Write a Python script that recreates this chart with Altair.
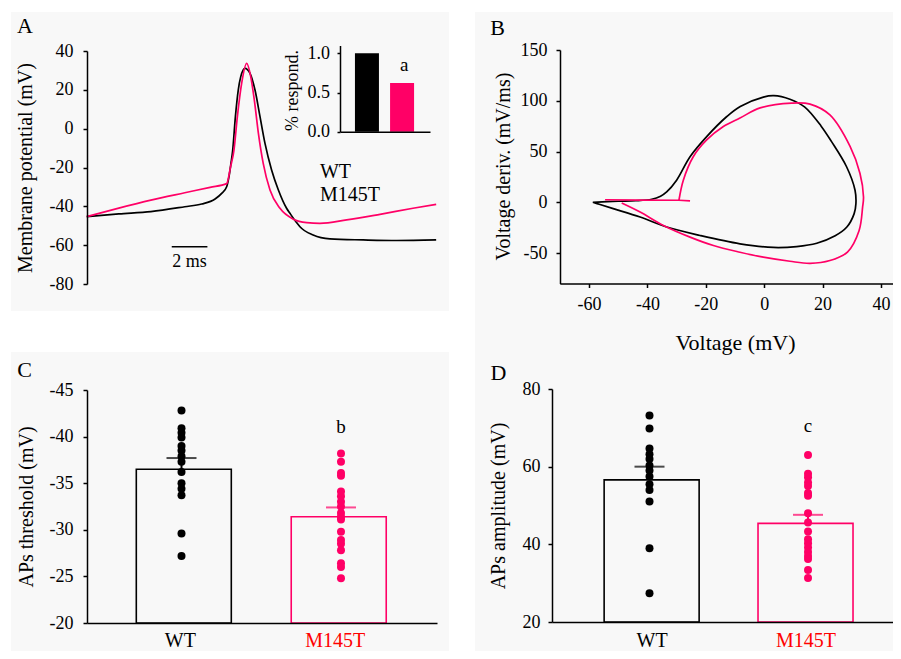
import altair as alt
import pandas as pd

# ------------------------------------------------------------------ data
groups = ["WT", "M145T"]

# Panel A: action potentials (time in ms, membrane potential in mV)
a_wt_t = [0, 1.8, 3.6, 5.5, 6.45, 7.2, 7.57, 7.85, 7.98, 8.09, 8.19, 8.34, 8.5, 8.64, 8.88,
          9.16, 9.44, 9.72, 10.0, 10.37, 10.75, 11.21, 11.4, 11.78, 11.96, 12.7, 13.64, 15.5, 17.4, 19.6]
a_wt_v = [-45.3, -43.9, -42.7, -40.2, -38.8, -36.2, -33.3, -29.9, -24.7, -17.9, -11.0, 6.2, 19.9, 26.8, 31.1,
          28.5, 19.9, 6.2, -7.6, -21.3, -31.6, -41.0, -43.6, -48.5, -50.5, -54.8, -56.8, -57.3, -57.6, -57.3]
a_mut_t = [0, 1.8, 3.6, 5.5, 6.92, 7.85, 8.07, 8.26, 8.45, 8.69, 8.97, 9.2, 9.4, 9.63, 9.9,
           10.28, 10.84, 11.59, 12.34, 13.08, 14.58, 16.45, 18.3, 19.6]
a_mut_v = [-45.3, -40.9, -36.8, -33.0, -30.2, -28.3, -19.6, -11.0, 6.2, 23.3, 33.6, 26.8, 14.8, -2.4, -17.9,
           -31.6, -41.0, -46.6, -48.4, -48.8, -47.0, -44.1, -41.0, -39.0]
a_yticks = [-80, -60, -40, -20, 0, 20, 40]
scalebar_t = [4.77]
scalebar_len = 2
scalebar_v = [-60.8]
scalebar_label = ["2 ms"]

# inset: fraction responding
inset_resp = [1.0, 0.62]
inset_ticks = [0.0, 0.5, 1.0]

# Panel B: phase plots (V in mV, dV/dt in mV/ms)
b_wt_v = [-58.7, -50, -44, -38.5, -35.5, -33.4, -30, -25.4, -19.7, -12.8, -8.2, -0.3, 3.3, 8.8, 13.8,
          19.5, 23.0, 28.2, 31.1, 31.4, 30.8, 28.3, 24.3, 18.0, 11.1, 3.1, -8.3, -22, -33.4, -42.5,
          -51.7, -56.5, -58.7]
b_wt_dv = [0, 1, 1.5, 3, 6, 10.2, 21.8, 44.9, 64.7, 84.5, 94.4, 103.6, 105, 101.5, 94,
           75, 60, 35, 11.9, -1.3, -11.2, -24.4, -33, -40.3, -43.6, -44.5, -40.9, -32.7, -24.4, -14.5,
           -6.3, -2, 0]
b_mut_v = [-29.2, -27.7, -24.3, -19.7, -14, -8.3, -1.4, 9.4, 15.7, 22.5, 29.4, 32.8, 34.0, 33.7,
           32.5, 28.5, 22.5, 15.7, 8.8, -0.3, -8.3, -17.4, -25.4, -34.5, -42.5, -48.8]
b_mut_dv = [2, 21.8, 44.9, 61.4, 74.6, 83, 93, 97.7, 96.7, 86, 55, 28.4, 5.2, -4.6,
            -27.7, -49, -57.4, -60.1, -58.1, -54.1, -49.2, -42.6, -34.3, -22.8, -9.6, -0.7]
b_mut_flat_v = [-54.5, -42, -29.2, -25.4]
b_mut_flat_dv = [2.5, 2.2, 2, 1.3]
b_xticks = [-60, -40, -20, 0, 20, 40]
b_yticks = [-50, 0, 50, 100, 150]

# Panel C: AP threshold (mV)
c_wt = [-42.8, -40.9, -40.4, -39.9, -39.0, -38.5, -37.9, -37.3, -36.2, -35.0, -34.4, -33.7, -29.6, -27.2]
c_mut = [-38.2, -37.3, -36.1, -35.8, -34.1, -33.6, -33.0, -32.5, -31.8, -31.4, -31.1, -29.8, -28.9,
         -28.5, -27.8, -26.4, -26.0, -24.8]
c_mean = [-36.5, -31.4]
c_cap = [-37.7, -32.4]
c_ydomain = [-45, -20]
c_yticks = [-45, -40, -35, -30, -25, -20]
c_letter = ["b"]
c_letter_v = [-41.0]

# Panel D: AP amplitude (mV)
d_wt = [73.2, 69.8, 64.7, 63.2, 62.0, 60.3, 59.0, 57.5, 55.5, 54.0, 51.0, 39.0, 27.4]
d_mut = [63.0, 58.2, 57.3, 55.9, 55.0, 53.2, 52.5, 48.0, 45.6, 43.3, 41.3, 40.3, 39.2, 38.0, 37.0,
         36.2, 33.4, 31.3]
d_mean = [56.6, 45.4]
d_cap = [60.0, 47.6]
d_ydomain = [20, 80]
d_yticks = [20, 40, 60, 80]
d_letter = ["c"]
d_letter_v = [70.5]

# ------------------------------------------------------------------ style / layout
BLACK, PINK, RED, BG = "#000000", "#ff0066", "#ff0000", "#f8f8f8"
FONT = "Liberation Serif"
W, H = 885, 643
M = 8  # page margin: reference pixel -> chart pixel


def cx(x):
    return x - M


def cy(y):
    return y - M


def lin(domain, r0, r1):
    return alt.Scale(domain=domain, range=[r0, r1], nice=False, zero=False)


NUM = "'' + datum.value"
color_scale = alt.Scale(domain=groups, range=[BLACK, PINK])
AX_STYLE = dict(grid=False, zindex=1, labelOverlap=False, labelFlush=False, labelFont=FONT,
                titleFont=FONT, titleFontWeight="normal", domainColor=BLACK, tickColor=BLACK,
                domainWidth=1.5, tickWidth=1.5, titleColor=BLACK)


def y_axis(x_ref, values, title, tx_ref, ty_ref, pad=10, tick=4, lsize=18, tsize=20, expr=NUM):
    return alt.Axis(orient="left", offset=-cx(x_ref), values=values, title=title,
                    titleX=tx_ref - x_ref, titleY=cy(ty_ref), titleAngle=-90,
                    titleAlign="center", titleBaseline="middle", titleFontSize=tsize,
                    labelFontSize=lsize, tickSize=tick, labelPadding=pad, labelExpr=expr,
                    labelColor=BLACK, **AX_STYLE)


def x_axis(y_ref, **kw):
    return alt.Axis(orient="bottom", offset=cy(y_ref) - H, **AX_STYLE, **kw)


def strip(x0, x1, y0, y1):
    # white gaps between the grey figure panels
    return alt.Chart(pd.DataFrame({"k": [0]})).mark_rect(color="white").encode(
        x=alt.value(cx(x0)), x2=alt.value(cx(x1)), y=alt.value(cy(y0)), y2=alt.value(cy(y1)))


def letter(s, x, y):
    return alt.Chart(pd.DataFrame({"k": [0]})).mark_text(
        text=s, fontSize=22, font=FONT, align="center", baseline="middle", color=BLACK).encode(
        x=alt.value(cx(x)), y=alt.value(cy(y)))


layers = [strip(0, 901, 0, 12), strip(0, 11, 0, 659), strip(449, 475, 0, 659), strip(0, 449, 311, 352)]

# ------------------------------------------------------------------ panel A
xA = lin([0, 19.63], cx(86.7), cx(436.7))
yA = lin([-80, 40], cy(284), cy(51))
XA = alt.X("t:Q", scale=xA, axis=None)
YA = alt.Y("v:Q", scale=yA, axis=None)

layers.append(alt.Chart(pd.DataFrame({"t": a_wt_t, "v": a_wt_v})).mark_line(
    color=BLACK, strokeWidth=1.7, interpolate="monotone").encode(
    x=XA, y=alt.Y("v:Q", scale=yA, axis=y_axis(87, a_yticks, "Membrane potential (mV)", 25.5, 167.5))))
layers.append(alt.Chart(pd.DataFrame({"t": a_mut_t, "v": a_mut_v})).mark_line(
    color=PINK, strokeWidth=1.7, interpolate="monotone").encode(x=XA, y=YA))
sb_df = pd.DataFrame({"t": scalebar_t, "t2": [t + scalebar_len for t in scalebar_t], "v": scalebar_v,
                      "tm": [t + scalebar_len / 2 for t in scalebar_t],
                      "vl": [v - 7.7 for v in scalebar_v], "label": scalebar_label})
layers.append(alt.Chart(sb_df).mark_rule(color=BLACK, strokeWidth=1.5).encode(x=XA, x2="t2:Q", y=YA))
layers.append(alt.Chart(sb_df).mark_text(fontSize=18, font=FONT, baseline="middle", color=BLACK).encode(
    x=alt.X("tm:Q", scale=xA, axis=None), y=alt.Y("vl:Q", scale=yA, axis=None), text="label:N"))
leg_df = pd.DataFrame({"t": [13.08, 13.08], "v": [-22.1, -34.2], "label": groups})
layers.append(alt.Chart(leg_df).mark_text(fontSize=20, font=FONT, align="left", baseline="middle",
                                          color=BLACK).encode(x=XA, y=YA, text="label:N"))

# ------------------------------------------------------------------ inset
xI = lin([-0.625, 1.653], cx(340), cx(430))
yI = lin([0, 1.1], cy(131.7), cy(45.5))
inset_df = pd.DataFrame({"pos": [0, 1], "r": inset_resp, "g": groups})
layers.append(alt.Chart(inset_df).mark_bar(size=24).encode(
    x=alt.X("pos:Q", scale=xI, axis=x_axis(131.7, labels=False, ticks=False, title=None)),
    y=alt.Y("r:Q", scale=yI, axis=y_axis(340, inset_ticks, "% respond.", 292, 90, pad=7.5, tick=3,
                                         lsize=18, tsize=18, expr="format(datum.value, '.1f')")),
    color=alt.Color("g:N", scale=color_scale, legend=None)))
layers.append(alt.Chart(pd.DataFrame({"pos": [1], "r": [0.85], "label": ["a"]})).mark_text(
    fontSize=19, font=FONT, baseline="middle", color=BLACK).encode(
    x=alt.X("pos:Q", scale=xI, axis=None), y=alt.Y("r:Q", scale=yI, axis=None), text="label:N"))

# ------------------------------------------------------------------ panel B
xB = lin([-70, 44.1], cx(559.8), cx(893))
yB = lin([-80, 150], cy(283.5), cy(50))


def loop_df(v, dv):
    return pd.DataFrame({"v": v, "dv": dv, "i": list(range(len(v)))})


layers.append(alt.Chart(loop_df(b_wt_v, b_wt_dv)).mark_line(
    color=BLACK, strokeWidth=1.7, interpolate="catmull-rom").encode(
    x=alt.X("v:Q", scale=xB, axis=x_axis(283.5, values=b_xticks, title="Voltage (mV)", labelExpr=NUM,
                                         labelFontSize=18, tickSize=4, labelPadding=8, labelColor=BLACK,
                                         titleFontSize=22, titleX=cx(735), titleY=342 - 283.5,
                                         titleAlign="center", titleBaseline="middle")),
    y=alt.Y("dv:Q", scale=yB, axis=y_axis(560, b_yticks, "Voltage deriv. (mV/ms)", 503, 166, pad=9)),
    order="i:Q"))
XB = alt.X("v:Q", scale=xB, axis=None)
YB = alt.Y("dv:Q", scale=yB, axis=None)
layers.append(alt.Chart(loop_df(b_mut_v, b_mut_dv)).mark_line(
    color=PINK, strokeWidth=1.7, interpolate="catmull-rom").encode(x=XB, y=YB, order="i:Q"))
layers.append(alt.Chart(loop_df(b_mut_flat_v, b_mut_flat_dv)).mark_line(
    color=PINK, strokeWidth=1.7).encode(x=XB, y=YB, order="i:Q"))


# ------------------------------------------------------------------ panels C & D
def bar_panel(vals_wt, vals_mut, means, caps, ydomain, yticks, ytitle, x_ax_ref, y_top_ref,
              y_bot_ref, x_left_ref, x_right_ref, xdom, title_ref, pad, lab_off, lab_pad,
              letter_txt, letter_v, inverted):
    xs = lin(xdom, cx(x_left_ref), cx(x_right_ref))
    if inverted:  # most negative value at the top
        ys = lin(ydomain, cy(y_top_ref), cy(y_bot_ref))
        base = ydomain[1]
    else:
        ys = lin(ydomain, cy(y_bot_ref), cy(y_top_ref))
        base = ydomain[0]
    summ = pd.DataFrame({"pos": [0, 1], "m": means, "cap": caps, "base": [base, base], "g": groups})
    dots = pd.DataFrame({"pos": [0] * len(vals_wt) + [1] * len(vals_mut),
                         "val": vals_wt + vals_mut,
                         "g": [groups[0]] * len(vals_wt) + [groups[1]] * len(vals_mut)})
    X = alt.X("pos:Q", scale=xs, axis=None)
    col = alt.Color("g:N", scale=color_scale, legend=None)
    label_expr = f"datum.value == 0 ? '{groups[0]}' : '{groups[1]}'"
    bars = alt.Chart(summ).mark_bar(size=95, filled=False, strokeWidth=1.6).encode(
        x=alt.X("pos:Q", scale=xs, axis=x_axis(x_ax_ref, values=[0, 1], labelExpr=label_expr, title=None,
                                                ticks=False, tickSize=0, labelPadding=lab_pad,
                                                labelFontSize=20, labelOffset=lab_off,
                                                labelColor={"condition": {"test": "datum.value == 1",
                                                                          "value": RED},
                                                            "value": BLACK})),
        y=alt.Y("m:Q", scale=ys, axis=y_axis(x_left_ref, yticks, ytitle, title_ref[0], title_ref[1], pad=pad)),
        y2="base:Q", color=col)
    pts = alt.Chart(dots).mark_circle(size=64, opacity=1).encode(
        x=X, y=alt.Y("val:Q", scale=ys, axis=None), color=col)
    err = alt.Chart(summ).mark_rule(strokeWidth=2).encode(
        x=X, y=alt.Y("m:Q", scale=ys, axis=None), y2="cap:Q", color=col)
    capm = alt.Chart(summ).mark_tick(orient="horizontal", size=30, thickness=2).encode(
        x=X, y=alt.Y("cap:Q", scale=ys, axis=None), color=col)
    let = alt.Chart(pd.DataFrame({"pos": [1], "val": letter_v, "label": letter_txt})).mark_text(
        fontSize=19, font=FONT, baseline="middle", color=BLACK).encode(
        x=X, y=alt.Y("val:Q", scale=ys, axis=None), text="label:N")
    return [bars, pts, err, capm, let]


layers += bar_panel(c_wt, c_mut, c_mean, c_cap, c_ydomain, c_yticks, "APs threshold (mV)",
                    623, 390, 623, 87, 437, [-0.5925, 1.602], (26, 506.5), 10, -4, 7,
                    c_letter, c_letter_v, inverted=True)
layers += bar_panel(d_wt, d_mut, d_mean, d_cap, d_ydomain, d_yticks, "APs amplitude (mV)",
                    622, 389, 622, 552, 893, [-0.615, 1.536], (498.5, 505.5), 8, 0, 8,
                    d_letter, d_letter_v, inverted=False)

layers += [letter("A", 25, 25.5), letter("B", 497.5, 27.5), letter("C", 24.5, 369.5),
           letter("D", 498.5, 372.5)]

# ------------------------------------------------------------------ assemble
chart = alt.layer(*layers).resolve_scale(
    x="independent", y="independent"
).resolve_axis(x="independent", y="independent").properties(
    width=W, height=H, padding=0, autosize=alt.AutoSizeParams(type="none"), background=BG
).configure_view(stroke=None).configure_axis(
    domainColor=BLACK, tickColor=BLACK, domainWidth=1.5, tickWidth=1.5,
    labelFont=FONT, titleFont=FONT, titleFontWeight="normal", labelColor=BLACK, titleColor=BLACK
).configure_text(font=FONT)

chart.save("out.html", embed_options={"renderer": "svg", "actions": False})
